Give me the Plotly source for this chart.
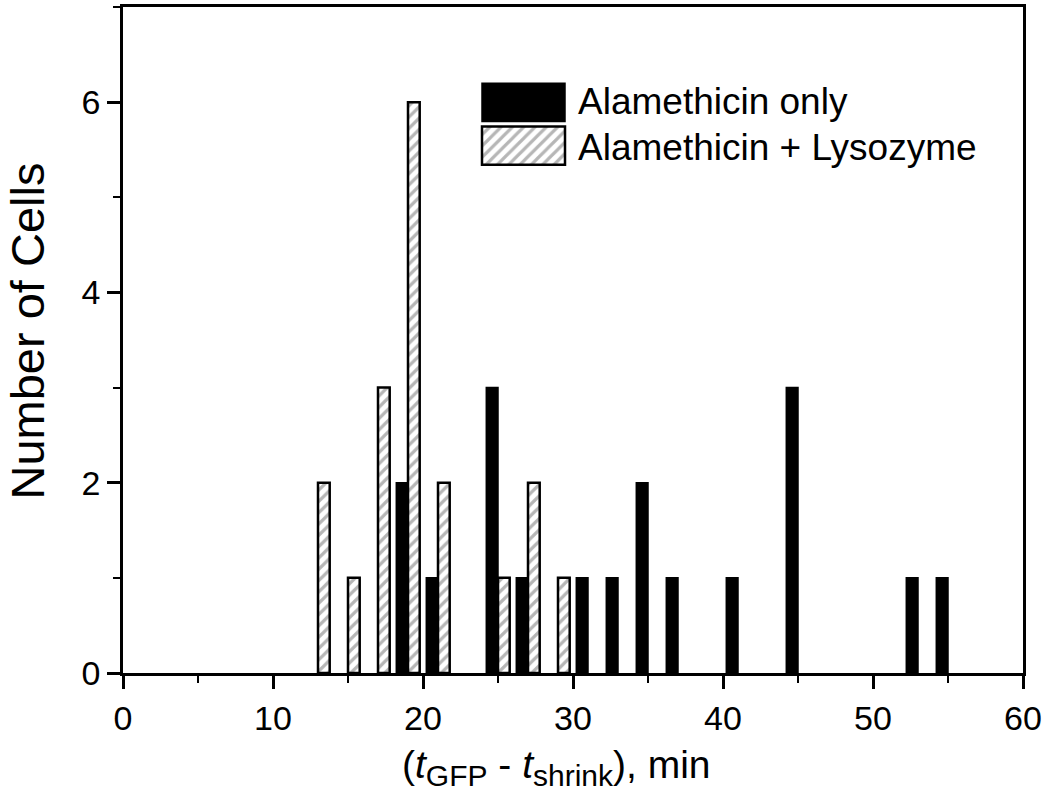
import plotly.graph_objects as go

# ---- data ----
bins_only = [19, 21, 25, 27, 31, 33, 35, 37, 41, 45, 53, 55]
counts_only = [2, 1, 3, 1, 1, 1, 2, 1, 1, 3, 1, 1]
bins_lyso = [13, 15, 17, 19, 21, 25, 27, 29]
counts_lyso = [2, 1, 3, 6, 2, 1, 2, 1]
series_names = ["Alamethicin only", "Alamethicin + Lysozyme"]
x_ticks = [0, 10, 20, 30, 40, 50, 60]
y_ticks = [0, 2, 4, 6]

W, H = 1050, 798
L, R, T, B = 123, 1023, 4, 673  # plot area in px


def px2x(px):
    return (px - L) / (R - L)


def px2y(py):
    return (B - py) / (B - T)


FONT = "Liberation Sans, Arial, sans-serif"
BW = 0.78
hatch = dict(shape="/", size=8, solidity=0.4, fgcolor="#6e6e6e", bgcolor="white")

fig = go.Figure()
fig.add_trace(go.Bar(
    x=bins_only, y=counts_only, name=series_names[0],
    width=BW, offset=-BW,
    marker=dict(color="black", line=dict(color="black", width=1.5)),
    showlegend=False,
))
fig.add_trace(go.Bar(
    x=bins_lyso, y=counts_lyso, name=series_names[1],
    width=BW, offset=0,
    marker=dict(color="white", pattern=hatch, line=dict(color="black", width=2.5)),
    showlegend=False,
))

# legend swatches on an overlay subplot
sw_x0, sw_x1 = 482, 565
sw_top, sw_bot = 78, 165
pad = 0.03
span = (sw_x1 - sw_x0)  # px per unit
dom_x = [px2x(sw_x0 - pad * span), px2x(sw_x1 + pad * span)]
dom_y = [px2y(sw_bot), px2y(sw_top)]
fig.add_trace(go.Bar(
    x=[1], y=[1], orientation="h", base=0, width=0.885, offset=-0.4425,
    marker=dict(color="black", line=dict(color="black", width=1.5)),
    xaxis="x2", yaxis="y2", showlegend=False, hoverinfo="skip",
))
fig.add_trace(go.Bar(
    x=[1], y=[0], orientation="h", base=0, width=0.885, offset=-0.4425,
    marker=dict(color="white", pattern=hatch, line=dict(color="black", width=2.5)),
    xaxis="x2", yaxis="y2", showlegend=False, hoverinfo="skip",
))

for i, name in enumerate(series_names):
    fig.add_annotation(
        x=px2x(576), y=px2y(99 + 46 * i), xref="paper", yref="paper",
        text=name, showarrow=False, xanchor="left", yanchor="middle",
        font=dict(family=FONT, size=37, color="black"),
    )

# axis titles
fig.add_annotation(
    x=px2x(28), y=px2y(330), xref="paper", yref="paper",
    text="Number of Cells", textangle=-90, showarrow=False,
    xanchor="center", yanchor="middle",
    font=dict(family=FONT, size=47, color="black"),
)
fig.add_annotation(
    x=px2x(556), y=px2y(768), xref="paper", yref="paper",
    text="(<i>t</i><sub><span style='font-size:30px'>GFP</span></sub> - <i>t</i>"
         "<sub><span style='font-size:30px'>shrink</span></sub>), min",
    showarrow=False, xanchor="center", yanchor="middle",
    font=dict(family=FONT, size=39, color="black"),
)

axis_common = dict(
    showline=True, linecolor="black", linewidth=2.5, mirror=True,
    ticks="outside", tickcolor="black", tickwidth=2.5, ticklen=13,
    showgrid=False, zeroline=False,
    tickfont=dict(family=FONT, size=34, color="black"),
)

fig.update_layout(
    width=W, height=H,
    margin=dict(l=L, r=W - R, t=T, b=H - B),
    paper_bgcolor="white", plot_bgcolor="white",
    barmode="overlay",
    xaxis=dict(range=[0, 60], tickvals=x_ticks,
               minor=dict(dtick=5, ticks="outside", ticklen=7, tickwidth=2, tickcolor="black"),
               **axis_common),
    yaxis=dict(range=[0, 7], tickvals=y_ticks,
               minor=dict(dtick=1, ticks="outside", ticklen=7, tickwidth=2, tickcolor="black"),
               **axis_common),
    xaxis2=dict(domain=dom_x, range=[-pad, 1 + pad], anchor="y2", visible=False, fixedrange=True),
    yaxis2=dict(domain=dom_y, range=[-0.5, 1.5], anchor="x2", visible=False, fixedrange=True),
    showlegend=False,
)

fig.write_html("out.html", config={"displayModeBar": False},
               post_script="document.body.style.margin='0px';")
